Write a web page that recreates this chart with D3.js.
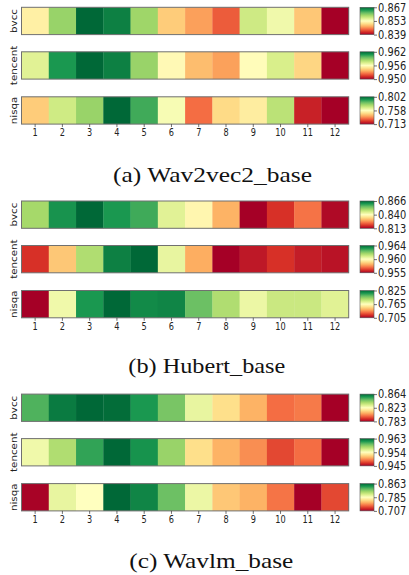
<!DOCTYPE html>
<html><head><meta charset="utf-8">
<script src="https://cdn.jsdelivr.net/npm/d3@7"></script>
<style>body{margin:0;background:#fff}svg{display:block}</style>
</head><body><svg id="c" width="409" height="575"></svg>
<script>
// ---------- data ----------
const layers = ["1","2","3","4","5","6","7","8","9","10","11","12"];
const metrics = ["bvcc","tencent","nisqa"];
const captions = ["(a) Wav2vec2_base","(b) Hubert_base","(c) Wavlm_base"];

const wav2vec2_bvcc    = [0.8516,0.8592,0.8670,0.8656,0.8589,0.8491,0.8468,0.8438,0.8564,0.8541,0.8488,0.8390];
const wav2vec2_tencent = [0.95696,0.96080,0.96200,0.96140,0.95864,0.95576,0.95396,0.95336,0.95588,0.95720,0.95456,0.95000];
const wav2vec2_nisqa   = [0.7450,0.7682,0.7771,0.8020,0.7887,0.7593,0.7308,0.7477,0.7522,0.7717,0.7192,0.7130];
const wav2vec2_ticks   = [["0.867","0.853","0.839"],["0.962","0.956","0.950"],["0.802","0.758","0.713"]];

const hubert_bvcc    = [0.8501,0.8612,0.8660,0.8607,0.8581,0.8437,0.8379,0.8294,0.8130,0.8183,0.8241,0.8141];
const hubert_tencent = [0.95590,0.95815,0.96112,0.96355,0.96400,0.96004,0.95770,0.95500,0.95545,0.95590,0.95554,0.95536];
const hubert_nisqa   = [0.7050,0.7698,0.8130,0.8250,0.8166,0.8178,0.7998,0.7866,0.7710,0.7806,0.7806,0.7746];
const hubert_ticks   = [["0.866","0.840","0.813"],["0.964","0.960","0.955"],["0.825","0.765","0.705"]];

const wavlm_bvcc    = [0.8502,0.8608,0.8640,0.8632,0.8559,0.8454,0.8284,0.8154,0.8081,0.7992,0.8008,0.7830];
const wavlm_tencent = [0.95472,0.95724,0.96066,0.96300,0.96138,0.95796,0.95220,0.95058,0.94950,0.94752,0.94860,0.94500];
const wavlm_nisqa   = [0.7080,0.7944,0.7850,0.8630,0.8536,0.8302,0.7928,0.7616,0.7554,0.7398,0.7070,0.7288];
const wavlm_ticks   = [["0.864","0.823","0.783"],["0.963","0.954","0.945"],["0.863","0.785","0.707"]];

const rdylgn = ["#a50026","#d73027","#f46d43","#fdae61","#fee08b","#ffffbf","#d9ef8b","#a6d96a","#66bd63","#1a9850","#006837"];

const panels = [
  {caption:captions[0], rows:[wav2vec2_bvcc,wav2vec2_tencent,wav2vec2_nisqa], ticks:wav2vec2_ticks},
  {caption:captions[1], rows:[hubert_bvcc,hubert_tencent,hubert_nisqa], ticks:hubert_ticks},
  {caption:captions[2], rows:[wavlm_bvcc,wavlm_tencent,wavlm_nisqa], ticks:wavlm_ticks}
];

// ---------- layout ----------
const panelTop = [0, 193.7, 386.8];
const rowTop = [7.3, 51.8, 96.8];
const rowH = 27.3;
const left = 21.5, right = 348.7;
const cbX = 360, cbW = 14;
const capLayout = [{x:113,w:199,y:181.5},{x:128.3,w:157,y:372.5},{x:129.3,w:164,y:568}];
const SX = 0.82;

const svg = d3.select("#c");
const t01 = d3.range(11).map(i=>i/10);
const cmapNorm = d3.scaleLinear().domain(t01).range(rdylgn).interpolate(d3.interpolateRgb).clamp(true);

const defs = svg.append("defs");
const grad = defs.append("linearGradient").attr("id","cbgrad")
  .attr("x1",0).attr("y1",1).attr("x2",0).attr("y2",0);
d3.range(0,1.0001,0.05).forEach(t=>{
  grad.append("stop").attr("offset",t).attr("stop-color",cmapNorm(t));
});

const x = d3.scaleBand().domain(layers).range([left,right]).padding(0);

panels.forEach((p,pi)=>{
  const g = svg.append("g").attr("transform",`translate(0,${panelTop[pi]})`);
  p.rows.forEach((vals,ri)=>{
    const y0 = rowTop[ri];
    const [mn,mx] = d3.extent(vals);
    const norm = d3.scaleLinear().domain([mn,mx]).range([0,1]);
    const rg = g.append("g");
    rg.selectAll("rect.cell").data(vals).join("rect").attr("class","cell")
      .attr("x",(d,i)=>x(layers[i]))
      .attr("y",y0)
      .attr("width",x.bandwidth()+0.3)
      .attr("height",rowH)
      .attr("fill",d=>cmapNorm(norm(d)));
    rg.append("rect").attr("x",left).attr("y",y0).attr("width",right-left).attr("height",rowH)
      .attr("fill","none").attr("stroke","#707070").attr("stroke-width",1);
    // row label
    rg.append("text")
      .attr("transform",`translate(17.3,${y0+rowH/2}) scale(${SX},1) rotate(-90)`)
      .attr("text-anchor","middle")
      .attr("font-family","DejaVu Sans").attr("font-size",10.3).attr("fill","#222")
      .text(metrics[ri]);
    // colorbar
    rg.append("rect").attr("x",cbX).attr("y",y0).attr("width",cbW).attr("height",rowH)
      .attr("fill","url(#cbgrad)").attr("stroke","#555").attr("stroke-width",0.6);
    const cy = d3.scaleLinear().domain([mn,mx]).range([y0+rowH,y0]);
    const ax = d3.axisRight(cy).tickValues([mx,(mn+mx)/2,mn]).tickSize(3).tickPadding(1.5)
      .tickFormat((d,i)=>p.ticks[ri][i]);
    const ag = rg.append("g").attr("transform",`translate(${cbX+cbW},0)`).call(ax);
    ag.select(".domain").remove();
    ag.selectAll(".tick line").attr("stroke","#333").attr("stroke-width",0.7);
    ag.selectAll(".tick text").attr("font-family","DejaVu Sans").attr("font-size",12).attr("fill","#222")
      .attr("x",0).attr("transform",`translate(4,0) scale(${SX},1)`);
  });
  // x axis
  const xa = d3.axisBottom(x).tickSize(3).tickPadding(2);
  const xg = g.append("g").attr("transform",`translate(0,${rowTop[2]+rowH})`).call(xa);
  xg.select(".domain").remove();
  xg.selectAll(".tick line").attr("stroke","#333").attr("stroke-width",0.7);
  xg.selectAll(".tick text").attr("font-family","DejaVu Sans").attr("font-size",10).attr("fill","#222")
    .attr("transform",`scale(${SX},1)`);
  // caption
  const c = capLayout[pi];
  svg.append("text").attr("x",c.x).attr("y",c.y)
    .attr("font-family","Liberation Serif").attr("font-size",22).attr("fill","#111")
    .attr("textLength",c.w).attr("lengthAdjust","spacingAndGlyphs")
    .text(p.caption);
});
</script>
</body></html>
